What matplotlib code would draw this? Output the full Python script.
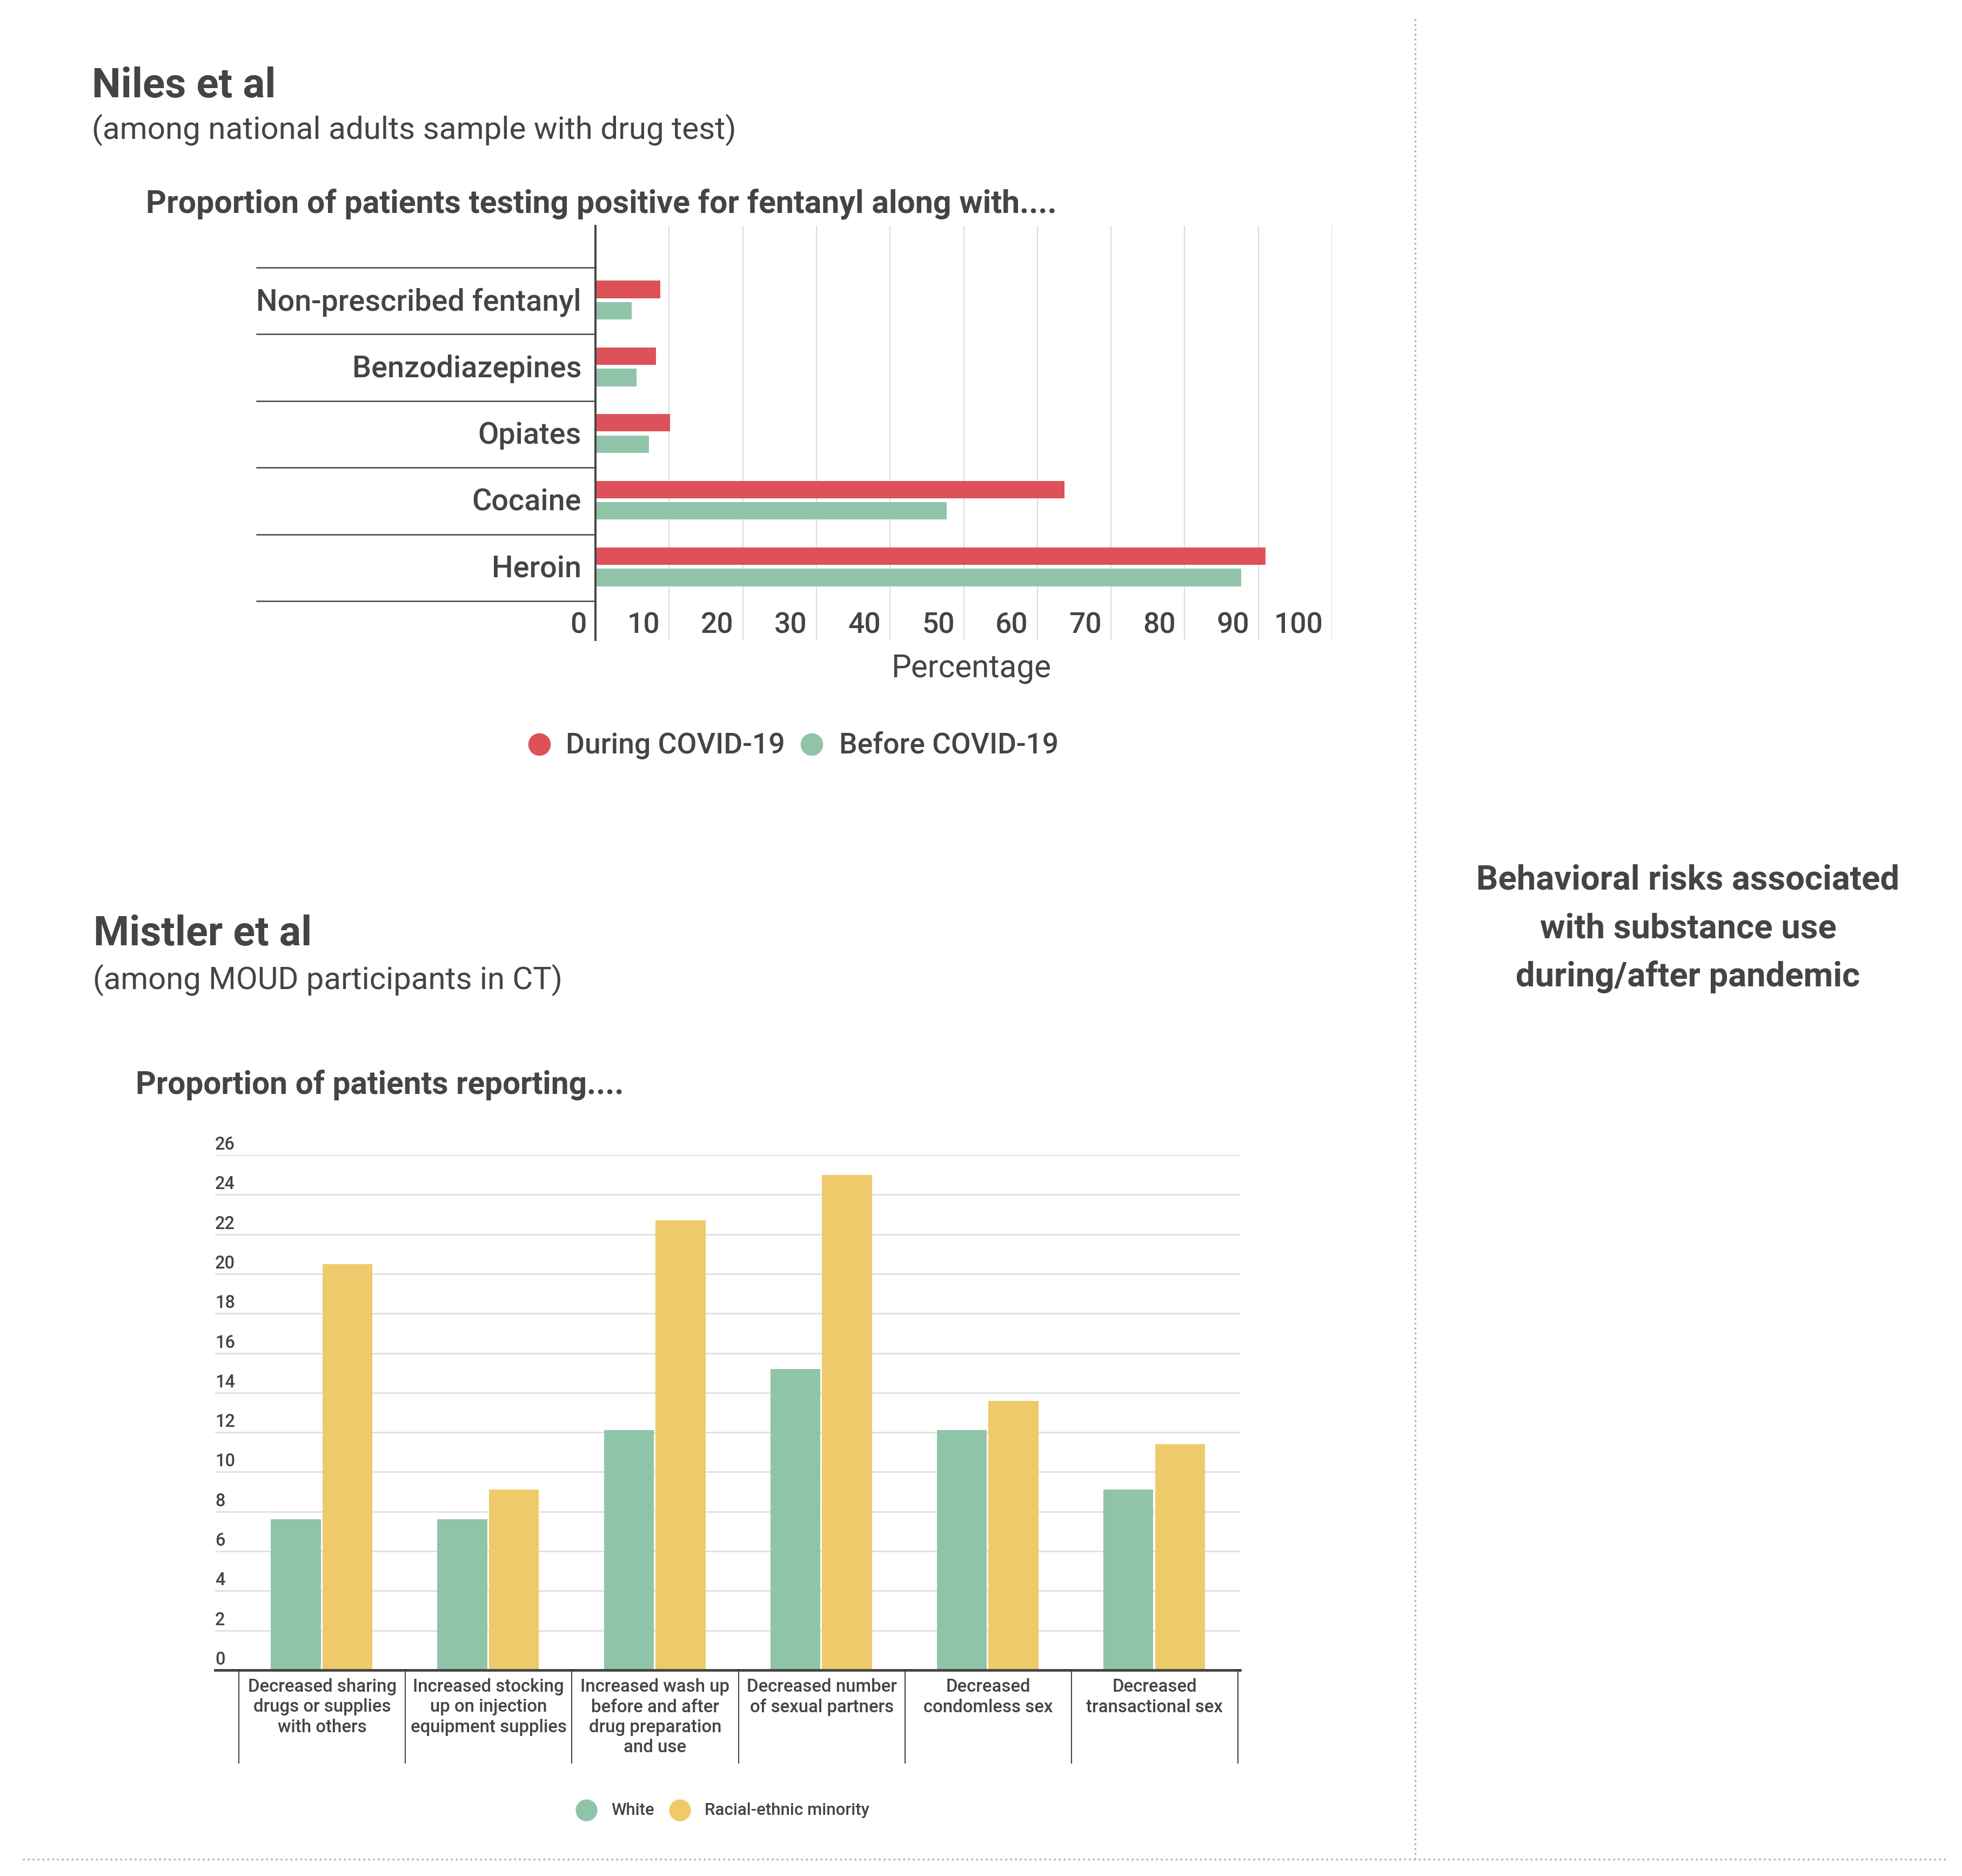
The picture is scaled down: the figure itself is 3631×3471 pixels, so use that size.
import matplotlib
matplotlib.use('Agg')
import matplotlib.pyplot as plt
import matplotlib.transforms as mtransforms
from matplotlib.lines import Line2D

plt.rcParams['font.family'] = ['Roboto', 'DejaVu Sans']

# ---------------- data ----------------
drugs = ['Non-prescribed fentanyl', 'Benzodiazepines', 'Opiates', 'Cocaine', 'Heroin']
during_covid = [8.8, 8.2, 10.1, 63.7, 91.0]
before_covid = [4.9, 5.6, 7.3, 47.7, 87.7]
pct_ticks = [0, 10, 20, 30, 40, 50, 60, 70, 80, 90, 100]

behaviors = ['Decreased sharing\ndrugs or supplies\nwith others',
             'Increased stocking\nup on injection\nequipment supplies',
             'Increased wash up\nbefore and after\ndrug preparation\nand use',
             'Decreased number\nof sexual partners',
             'Decreased\ncondomless sex',
             'Decreased\ntransactional sex']
white = [7.6, 7.6, 12.1, 15.2, 12.1, 9.1]
minority = [20.5, 9.1, 22.7, 25.0, 13.6, 11.4]
count_ticks = [0, 2, 4, 6, 8, 10, 12, 14, 16, 18, 20, 22, 24, 26]

# ---------------- style ----------------
W, H, DPI = 3631, 3471, 100
TXT = '#444444'
RED = '#DC5258'
GREEN = '#8FC4A8'
YELLOW = '#EECA6A'
GRID = '#DCDCDC'

fig = plt.figure(figsize=(W / DPI, H / DPI), dpi=DPI)
renderer = fig.canvas.get_renderer()


def fx(x):
    return x / W


def fy(y):
    return 1 - y / H


def fit(t, target):
    w = t.get_window_extent(renderer).width
    t.set_fontsize(t.get_fontsize() * target / w)
    return t.get_fontsize()


def ftext(x, y, s, target=None, **kw):
    kw.setdefault('color', TXT)
    kw.setdefault('va', 'baseline')
    t = fig.text(fx(x), fy(y), s, **kw)
    if target:
        fit(t, target)
    return t


def add_axes_px(l, t, r, b):
    return fig.add_axes([l / W, 1 - b / H, (r - l) / W, (b - t) / H])


# ---------------- titles ----------------
ftext(170, 180, 'Niles et al', 340, fontsize=50, fontweight='bold')
ftext(170, 257, '(among national adults sample with drug test)', 1191, fontsize=40)
ftext(270, 393, 'Proportion of patients testing positive for fentanyl along with....', 1682,
      fontsize=40, fontweight='bold')

ftext(173, 1749, 'Mistler et al', 404, fontsize=50, fontweight='bold')
ftext(172, 1830, '(among MOUD participants in CT)', 868, fontsize=40)
ftext(251, 2024, 'Proportion of patients reporting....', 902, fontsize=40, fontweight='bold')

t = ftext(3124, 1645, 'Behavioral risks associated', 783, fontsize=44, fontweight='bold', ha='center')
fs_right = t.get_fontsize()
ftext(3124, 1736, 'with substance use', fontsize=fs_right, fontweight='bold', ha='center')
ftext(3124, 1825, 'during/after pandemic', fontsize=fs_right, fontweight='bold', ha='center')

# ---------------- top chart ----------------
row_px = 123.4
ax1 = add_axes_px(1102, 418, 2465, 1184)
ax1.set_xlim(0, 100)
ax1.set_ylim(4.5 + (1184 - 1112) / row_px, -0.5 - (495 - 418) / row_px)
ypos = list(range(len(drugs)))
ax1.barh([y - 0.172 for y in ypos], during_covid, height=0.262, color=RED, zorder=3)
ax1.barh([y + 0.148 for y in ypos], before_covid, height=0.262, color=GREEN, zorder=3)
ax1.set_xticks(pct_ticks)
ax1.set_yticks([])
ax1.tick_params(axis='x', length=0, labelbottom=False)
ax1.xaxis.grid(True, color=GRID, lw=1.6)
ax1.set_axisbelow(True)
for s in ['top', 'right', 'bottom']:
    ax1.spines[s].set_visible(False)
ax1.spines['left'].set_color(TXT)
ax1.spines['left'].set_linewidth(2.8)
ax1.spines['left'].set_zorder(4)

tick_tr = mtransforms.offset_copy(ax1.transData, fig=fig, x=-17, y=0, units='dots')
tick_y = 4.5 + (1172 - 1112) / row_px
fs_tick = None
for v in pct_ticks:
    tt = ax1.text(v, tick_y, str(v), transform=tick_tr, ha='right', va='baseline',
                  color=TXT, fontsize=38, fontweight='medium', clip_on=False)
    if v == 100:
        fs_tick = fit(tt, 91)
for tt in ax1.texts:
    tt.set_fontsize(fs_tick)

lab_tr = mtransforms.offset_copy(ax1.transData, fig=fig, x=-26, y=-18, units='dots')
labs = []
for i, name in enumerate(drugs):
    labs.append(ax1.text(0, i, name, transform=lab_tr, ha='right', va='baseline',
                         color=TXT, fontsize=38, fontweight='medium', clip_on=False))
fs_lab = fit(labs[0], 601)
for l in labs:
    l.set_fontsize(fs_lab)

sep_tr = mtransforms.blended_transform_factory(ax1.transAxes, ax1.transData)
for k in range(len(drugs) + 1):
    ax1.plot([-0.46, 0], [k - 0.5, k - 0.5], transform=sep_tr, clip_on=False,
             color=TXT, lw=1.8, zorder=4)

ftext(1797, 1252, 'Percentage', 296, fontsize=38, ha='center')

# legend top
fig.add_artist(Line2D([fx(998)], [fy(1377)], marker='o', markersize=29, color=RED,
                      transform=fig.transFigure, lw=0))
fig.add_artist(Line2D([fx(1502)], [fy(1377)], marker='o', markersize=29, color=GREEN,
                      transform=fig.transFigure, lw=0))
ftext(1047, 1394, 'During COVID-19', 405, fontsize=40, fontweight='medium')
ftext(1553, 1394, 'Before COVID-19', 405, fontsize=40, fontweight='medium')

# ---------------- bottom chart ----------------
ax2 = add_axes_px(398, 2137, 2295, 3090)
n = len(behaviors)
ax2.set_xlim(-0.643, n - 0.5 + 0.013)
ax2.set_ylim(0, 26)
xpos = list(range(n))
ax2.bar([x - 0.158 for x in xpos], white, width=0.30, color=GREEN, zorder=3)
ax2.bar([x + 0.152 for x in xpos], minority, width=0.30, color=YELLOW, zorder=3)
ax2.set_yticks(count_ticks)
ax2.set_xticks([])
ax2.tick_params(axis='y', length=0, labelleft=False)
ax2.yaxis.grid(True, color=GRID, lw=1.8)
ax2.set_axisbelow(True)
for s in ['top', 'right', 'left']:
    ax2.spines[s].set_visible(False)
ax2.spines['bottom'].set_color(TXT)
ax2.spines['bottom'].set_linewidth(3.5)
ax2.spines['bottom'].set_zorder(4)

ytr = mtransforms.offset_copy(
    mtransforms.blended_transform_factory(ax2.transAxes, ax2.transData),
    fig=fig, x=0, y=10, units='dots')
yl = []
for v in count_ticks:
    yl.append(ax2.text(0, v, str(v), transform=ytr, ha='left', va='baseline', color=TXT,
                       fontsize=22, fontweight='medium', clip_on=False))
fs_y = fit(yl[-1], 37)
for t in yl:
    t.set_fontsize(fs_y)

ctr = mtransforms.offset_copy(
    mtransforms.blended_transform_factory(ax2.transData, ax2.transAxes),
    fig=fig, x=0, y=-15, units='dots')
cl = []
for i, name in enumerate(behaviors):
    cl.append(ax2.text(i, 0, name, transform=ctr, ha='center', va='top', color=TXT,
                       fontsize=27, fontweight='medium', linespacing=1.22, clip_on=False))
t0 = ax2.text(0, 0, 'Decreased sharing', fontsize=27, fontweight='medium')
fs_c = fit(t0, 274)
t0.remove()
for t in cl:
    t.set_fontsize(fs_c)

div_tr = mtransforms.blended_transform_factory(ax2.transData, ax2.transAxes)
for k in range(n + 1):
    ax2.plot([k - 0.5, k - 0.5], [0, -(3262 - 3090) / (3090 - 2137)], transform=div_tr,
             clip_on=False, color=TXT, lw=1.5, zorder=4)

# legend bottom
fig.add_artist(Line2D([fx(1085)], [fy(3349)], marker='o', markersize=28, color=GREEN,
                      transform=fig.transFigure, lw=0))
fig.add_artist(Line2D([fx(1258)], [fy(3349)], marker='o', markersize=28, color=YELLOW,
                      transform=fig.transFigure, lw=0))
ftext(1131, 3358, 'White', 80, fontsize=22, fontweight='medium')
ftext(1304, 3358, 'Racial-ethnic minority', 306, fontsize=22, fontweight='medium')

# ---------------- dotted frame lines ----------------
fig.add_artist(Line2D([fx(2619), fx(2619)], [fy(35), fy(3439)], color=GREEN, lw=2.4,
                      linestyle=(0, (1, 1.7)), transform=fig.transFigure))
fig.add_artist(Line2D([fx(42), fx(3601)], [fy(3440), fy(3440)], color=GREEN, lw=2.4,
                      linestyle=(0, (1, 1.7)), transform=fig.transFigure))

fig.savefig('out.png', dpi=DPI, facecolor='white')
